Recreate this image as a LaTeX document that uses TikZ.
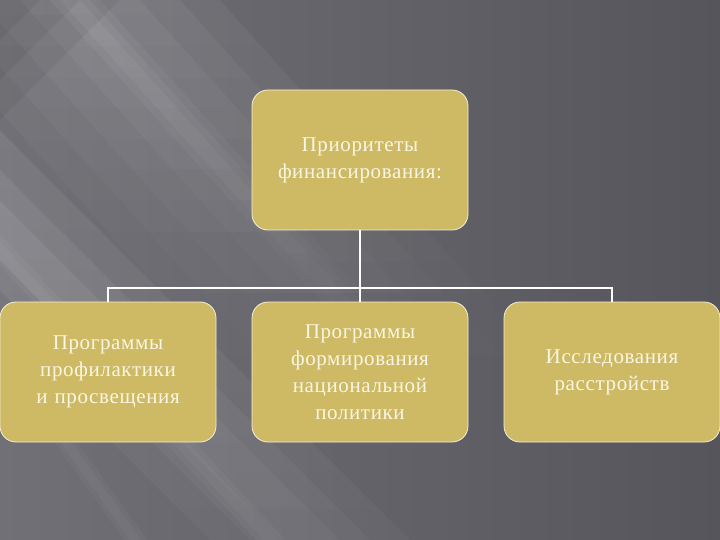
\documentclass[tikz,border=0pt]{standalone}
\usepackage{fontspec}
\setmainfont[LetterSpace=3]{Liberation Serif}
\usepackage{tikz}
\usepackage{xcolor}
\usetikzlibrary{positioning,fadings}

\definecolor{boxgold}{RGB}{206,185,100}
\definecolor{boxline}{RGB}{246,240,214}
\definecolor{boxtext}{RGB}{250,246,228}
\definecolor{bgleft}{RGB}{112,112,118}
\definecolor{bgright}{RGB}{86,85,92}

\tikzfading[name=beamfade, top color=transparent!0, bottom color=transparent!100]

\begin{document}
\begin{tikzpicture}[x=1pt, y=-1pt, node distance=252pt, on grid,
    box/.style={draw=boxline, line width=0.8pt, fill=boxgold, rounded corners=16pt,
        minimum width=216pt, minimum height=140pt, text width=205pt, align=center,
        text=boxtext, font=\fontsize{21}{27}\selectfont},
    link/.style={draw=white, line width=2.2pt},
    beam/.style={fill=white, opacity=#1},
    fadebeam/.style={fill=white, opacity=#1, path fading=beamfade}]

    % background
    \useasboundingbox (0,0) rectangle (720,540);
    \shade[left color=bgleft, right color=bgright] (0,0) rectangle (720,540);
    \begin{scope}
    \clip (0,0) rectangle (720,540);
    % light beams from the top left
    \foreach \w in {40,80,120,160}
        \fill[fadebeam=0.05] (60-\w,0) -- (60+\w,0) -- (60+\w+360,400) -- (60-\w+360,400) -- cycle;
    \foreach \w in {10,20}
        \fill[fadebeam=0.06] (70-\w,0) -- (70+\w,0) -- (430+\w,400) -- (430-\w,400) -- cycle;
    \foreach \w in {30,60,100}
        \fill[fadebeam=0.07] (0,230-\w) -- (0,230+\w) -- (520,750+\w) -- (520,750-\w) -- cycle;
    \foreach \w in {8,16}
        \fill[beam=0.035] (0,250-\w) -- (0,250+\w) -- (420,700+\w) -- (420,700-\w) -- cycle;
    \foreach \w in {8,16}
        \fill[beam=0.03] (0,350-\w) -- (0,350+\w) -- (250,700+\w) -- (250,700-\w) -- cycle;
    \foreach \r in {40,80,120}
        \fill[black, opacity=0.05] (0,0) -- (\r,0) -- (0,\r) -- cycle;
    \end{scope}

    \node[box] (top) at (360,160) {Приоритеты\\финансирования:};
    \node[box] (mid) [below=212pt of top] {Программы\\формирования\\национальной\\политики};
    \node[box] (left) [left=of mid] {Программы\\профилактики\\и просвещения};
    \node[box] (right) [right=of mid] {Исследования\\расстройств};

    \coordinate (bus) at ([yshift=14pt]left.north);
    \draw[link] (top.south) -- (mid.north);
    \draw[link] (left.north) -- (bus) -| (right.north);

\end{tikzpicture}
\end{document}
